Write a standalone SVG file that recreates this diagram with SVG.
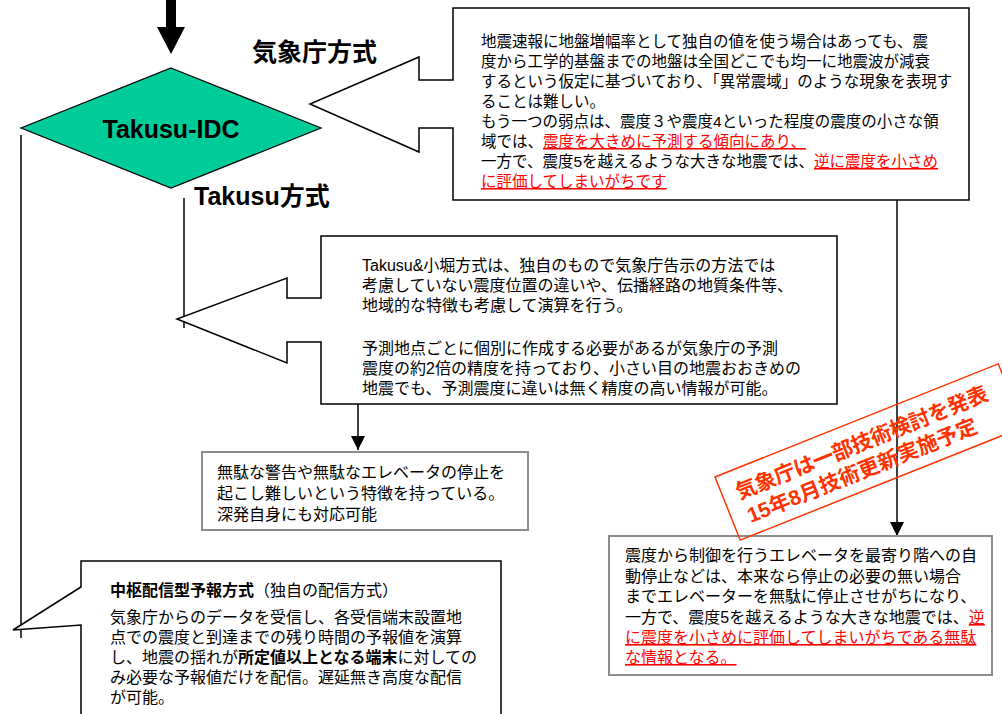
<svg xmlns="http://www.w3.org/2000/svg" width="1002" height="714" viewBox="0 0 1002 714">
<style>
text{font-family:"Liberation Sans","Noto Sans CJK JP",sans-serif;fill:#000}
.t16{font-size:16px}
.t155{font-size:15.5px}
.lbl{font-size:25px;font-weight:bold}
.box{fill:#fff;stroke:#000;stroke-width:1.5}
.gbox{fill:#fff;stroke:#8c8c8c;stroke-width:2}
.con{fill:none;stroke:#000;stroke-width:1.5}
.red{fill:#ff0000;text-decoration:underline}
.b{font-weight:bold}
.stamp{fill:#ff3300;font-size:21px;font-weight:bold}
</style>
<defs>
<marker id="ah" markerUnits="userSpaceOnUse" markerWidth="16" markerHeight="14" refX="14" refY="7" orient="auto">
<path d="M0,0 L14,7 L0,14 Z" fill="#000"/>
</marker>
</defs>
<g id="connectors">
<polygon points="166,-2 176,-2 176,27 185,27 171,54 157,27 166,27" fill="#000"/>
<line class="con" x1="21" y1="135" x2="21" y2="638"/>
<line class="con" x1="184" y1="198" x2="184" y2="328"/>
<line class="con" x1="358" y1="404" x2="358" y2="450" marker-end="url(#ah)"/>
<line class="con" x1="897" y1="200" x2="897" y2="536" marker-end="url(#ah)"/>
</g>
<g id="idc">
<polygon points="171,68 321,128 171,188 21,128" fill="#00cc99" stroke="#000" stroke-width="1.2"/>
<text x="171" y="138" text-anchor="middle" class="lbl">Takusu-IDC</text>
</g>
<g id="label-jma">
<text x="252" y="61" class="lbl">気象庁方式</text>
</g>
<g id="label-takusu">
<text x="194" y="205" class="lbl">Takusu方式</text>
</g>
<g id="jma-callout">
<path class="box" d="M453,8 H969 V200 H453 V128 H419 V152 L310,104 L419,57 V80 H453 Z"/>
<text class="t155">
<tspan x="481" y="47">地震速報に地盤増幅率として独自の値を使う場合はあっても、震</tspan>
<tspan x="481" y="67">度から工学的基盤までの地盤は全国どこでも均一に地震波が減衰</tspan>
<tspan x="481" y="87">するという仮定に基づいており、「異常震域」のような現象を表現す</tspan>
<tspan x="481" y="107">ることは難しい。</tspan>
<tspan x="481" y="127">もう一つの弱点は、震度３や震度4といった程度の震度の小さな領</tspan>
<tspan x="481" y="147">域では、<tspan class="red">震度を大きめに予測する傾向にあり、</tspan></tspan>
<tspan x="481" y="167">一方で、震度5を越えるような大きな地震では、<tspan class="red">逆に震度を小さめ</tspan></tspan>
<tspan x="481" y="187" class="red">に評価してしまいがちです</tspan>
</text>
</g>
<g id="takusu-callout">
<path class="box" d="M321,236 H837 V404 H321 V342 H287 V363 L177,319 L287,278 V298 H321 Z"/>
<text class="t16">
<tspan x="362" y="271">Takusu&amp;小堀方式は、独自のもので気象庁告示の方法では</tspan>
<tspan x="362" y="291">考慮していない震度位置の違いや、伝播経路の地質条件等、</tspan>
<tspan x="362" y="311">地域的な特徴も考慮して演算を行う。</tspan>
<tspan x="362" y="354">予測地点ごとに個別に作成する必要があるが気象庁の予測</tspan>
<tspan x="362" y="374">震度の約2倍の精度を持っており、小さい目の地震おおきめの</tspan>
<tspan x="362" y="394">地震でも、予測震度に違いは無く精度の高い情報が可能。</tspan>
</text>
</g>
<g id="feature-box">
<rect class="gbox" x="202" y="452" width="326" height="78"/>
<text class="t16">
<tspan x="217" y="478">無駄な警告や無駄なエレベータの停止を</tspan>
<tspan x="217" y="499">起こし難しいという特徴を持っている。</tspan>
<tspan x="217" y="520">深発自身にも対応可能</tspan>
</text>
</g>
<g id="distribution-callout">
<path class="box" d="M81,561 H501 V718 H81 V625 L13,630 L81,587 Z"/>
<text class="t16">
<tspan x="110" y="596"><tspan class="b">中枢配信型予報方式</tspan>（独自の配信方式）</tspan>
<tspan x="110" y="623">気象庁からのデータを受信し、各受信端末設置地</tspan>
<tspan x="110" y="643">点での震度と到達までの残り時間の予報値を演算</tspan>
<tspan x="110" y="663">し、地震の揺れが<tspan class="b">所定値以上となる端末</tspan>に対しての</tspan>
<tspan x="110" y="683">み必要な予報値だけを配信。遅延無き高度な配信</tspan>
<tspan x="110" y="703">が可能。</tspan>
</text>
</g>
<g id="elevator-box">
<rect class="gbox" x="609" y="536" width="383" height="139"/>
<text class="t16">
<tspan x="625" y="561">震度から制御を行うエレベータを最寄り階への自</tspan>
<tspan x="625" y="582">動停止などは、本来なら停止の必要の無い場合</tspan>
<tspan x="625" y="602">までエレベーターを無駄に停止させがちになり、</tspan>
<tspan x="625" y="623">一方で、震度5を越えるような大きな地震では、<tspan class="red">逆</tspan></tspan>
<tspan x="625" y="643" class="red">に震度を小さめに評価してしまいがちである無駄</tspan>
<tspan x="625" y="663" class="red">な情報となる。</tspan>
</text>
</g>
<g id="stamp" transform="translate(715,477) rotate(-21.77)">
<rect x="0" y="0" width="305" height="68" fill="none" stroke="#ff3300" stroke-width="1.5"/>
<text class="stamp" x="14" y="30" textLength="270" lengthAdjust="spacing">気象庁は一部技術検討を発表</text>
<text class="stamp" x="16" y="56" textLength="246" lengthAdjust="spacing">15年8月技術更新実施予定</text>
</g>
</svg>
